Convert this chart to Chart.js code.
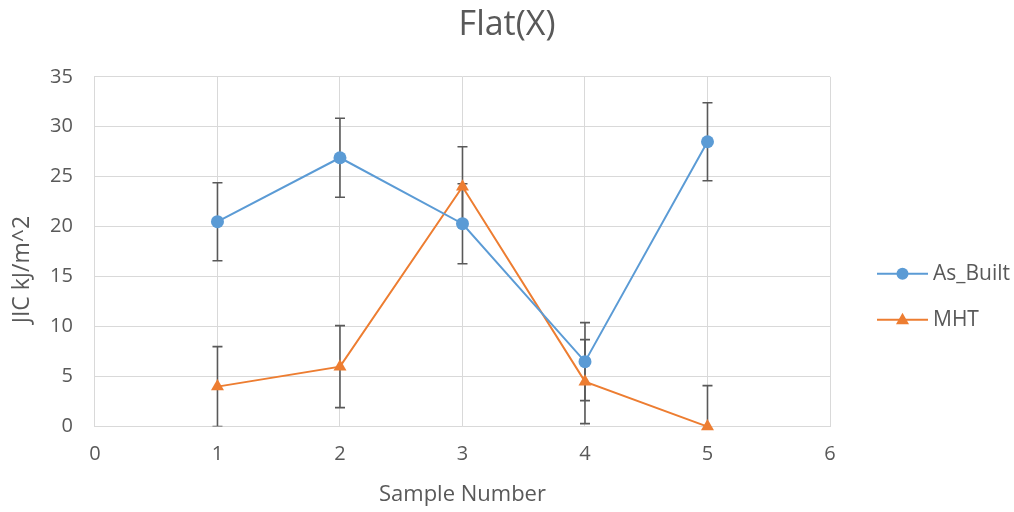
<!DOCTYPE html>
<html><head><meta charset="utf-8">
<script src="https://cdn.jsdelivr.net/npm/chart.js@4/dist/chart.umd.min.js"></script>
<style>html,body{margin:0;padding:0;background:#fff;}#wrap{width:1014px;height:512px;}</style>
</head><body><div id="wrap"><canvas id="c" width="1014" height="512"></canvas></div>
<script>
const samples = [1, 2, 3, 4, 5];
const asBuilt = [20.5, 26.9, 20.3, 6.5, 28.5];
const asBuiltErr = [3.9, 3.95, 4.0, 3.9, 3.9];
const mht = [4.0, 6.0, 24.0, 4.5, 0.0];
const mhtErr = [4.0, 4.1, 4.0, 4.2, 4.1];
const xTickValues = [0, 1, 2, 3, 4, 5, 6];
const yTickValues = [0, 5, 10, 15, 20, 25, 30, 35];
const seriesNames = ['As_Built', 'MHT'];
const titleText = 'Flat(X)';
const xTitle = 'Sample Number';
const yTitle = 'JIC kJ/m^2';

const FONT = "'Open Sans', sans-serif";
const TEXT = '#595959';
const GRID = '#d9d9d9';
const BLUE = '#5b9bd5';
const ORANGE = '#ed7d31';

const errorBars = {
  id: 'errorBars',
  beforeDatasetsDraw(chart) {
    const { ctx, chartArea, scales } = chart;
    const errs = [asBuiltErr, mhtErr];
    ctx.save();
    ctx.beginPath();
    ctx.rect(chartArea.left, chartArea.top, chartArea.right - chartArea.left, chartArea.bottom - chartArea.top);
    ctx.clip();
    ctx.strokeStyle = '#595959';
    ctx.lineWidth = 1.6;
    chart.data.datasets.forEach((ds, di) => {
      ds.data.forEach((pt, i) => {
        const x = scales.x.getPixelForValue(pt.x);
        const yTop = scales.y.getPixelForValue(pt.y + errs[di][i]);
        const yBot = scales.y.getPixelForValue(pt.y - errs[di][i]);
        ctx.beginPath();
        ctx.moveTo(x, yTop); ctx.lineTo(x, yBot);
        ctx.moveTo(x - 5, yTop); ctx.lineTo(x + 5, yTop);
        ctx.moveTo(x - 5, yBot); ctx.lineTo(x + 5, yBot);
        ctx.stroke();
      });
    });
    ctx.restore();
  }
};

const sideLegend = {
  id: 'sideLegend',
  afterDraw(chart) {
    const { ctx, chartArea } = chart;
    const x0 = chartArea.right + 47;
    const y0 = chartArea.top + 197;
    ctx.save();
    chart.data.datasets.forEach((ds, i) => {
      const y = y0 + i * 46;
      ctx.strokeStyle = ds.borderColor; ctx.lineWidth = 2;
      ctx.beginPath(); ctx.moveTo(x0, y); ctx.lineTo(x0 + 51, y); ctx.stroke();
      ctx.fillStyle = ds.borderColor;
      ctx.beginPath();
      const cx = x0 + 25.5;
      if (ds.pointStyle === 'circle') { ctx.arc(cx, y, 6, 0, Math.PI * 2); }
      else { ctx.moveTo(cx, y - 7); ctx.lineTo(cx + 6.5, y + 4.5); ctx.lineTo(cx - 6.5, y + 4.5); ctx.closePath(); }
      ctx.fill();
      ctx.fillStyle = TEXT;
      ctx.font = "21px " + FONT;
      ctx.textBaseline = 'middle';
      ctx.textAlign = 'left';
      ctx.fillText(ds.label, x0 + 56, y);
    });
    ctx.restore();
  }
};

new Chart(document.getElementById('c'), {
  type: 'line',
  data: {
    datasets: [
      {
        label: seriesNames[0],
        data: samples.map((s, i) => ({ x: s, y: asBuilt[i] })),
        borderColor: BLUE, backgroundColor: BLUE, borderWidth: 2,
        pointStyle: 'circle', pointRadius: 6.5, pointHoverRadius: 6.5,
        pointBorderWidth: 0, tension: 0, clip: false
      },
      {
        label: seriesNames[1],
        data: samples.map((s, i) => ({ x: s, y: mht[i] })),
        borderColor: ORANGE, backgroundColor: ORANGE, borderWidth: 2,
        pointStyle: 'triangle', pointRadius: 7.5, pointHoverRadius: 7.5,
        pointBorderWidth: 0, tension: 0, clip: false
      }
    ]
  },
  options: {
    responsive: false,
    animation: false,
    devicePixelRatio: 1,
    layout: { padding: { left: 0, right: 0, top: 0, bottom: 0 } },
    plugins: {
      title: { display: true, text: titleText, color: TEXT, font: { family: FONT, size: 34, weight: 'normal' }, padding: { top: 5, bottom: 31 } },
      legend: { display: false },
      tooltip: { enabled: false }
    },
    scales: {
      x: {
        type: 'linear', min: 0, max: 6,
        afterBuildTicks(scale) { scale.ticks = xTickValues.map(v => ({ value: v })); },
        ticks: { color: TEXT, font: { family: FONT, size: 20 }, padding: 16 },
        grid: { color: GRID, lineWidth: 1, drawTicks: false },
        border: { color: GRID },
        title: { display: true, text: xTitle, color: TEXT, font: { family: FONT, size: 22 }, padding: { top: -1, bottom: 4 } }
      },
      y: {
        min: 0, max: 35,
        afterBuildTicks(scale) { scale.ticks = yTickValues.map(v => ({ value: v })); },
        ticks: { color: TEXT, font: { family: FONT, size: 20 }, padding: 22 },
        grid: { color: GRID, lineWidth: 1, drawTicks: false },
        border: { color: GRID },
        title: { display: true, text: yTitle + '\u00a0\u00a0\u00a0\u00a0\u00a0\u00a0', color: TEXT, font: { family: FONT, size: 23 }, padding: { top: 8.2, bottom: -7.7 } }
      },
      legendSpace: {
        position: 'right', min: 0, max: 1,
        ticks: { display: false },
        grid: { display: false, drawTicks: false },
        border: { display: false },
        afterFit(scale) { scale.width = 184; }
      }
    }
  },
  plugins: [errorBars, sideLegend]
});
</script>
</body></html>
